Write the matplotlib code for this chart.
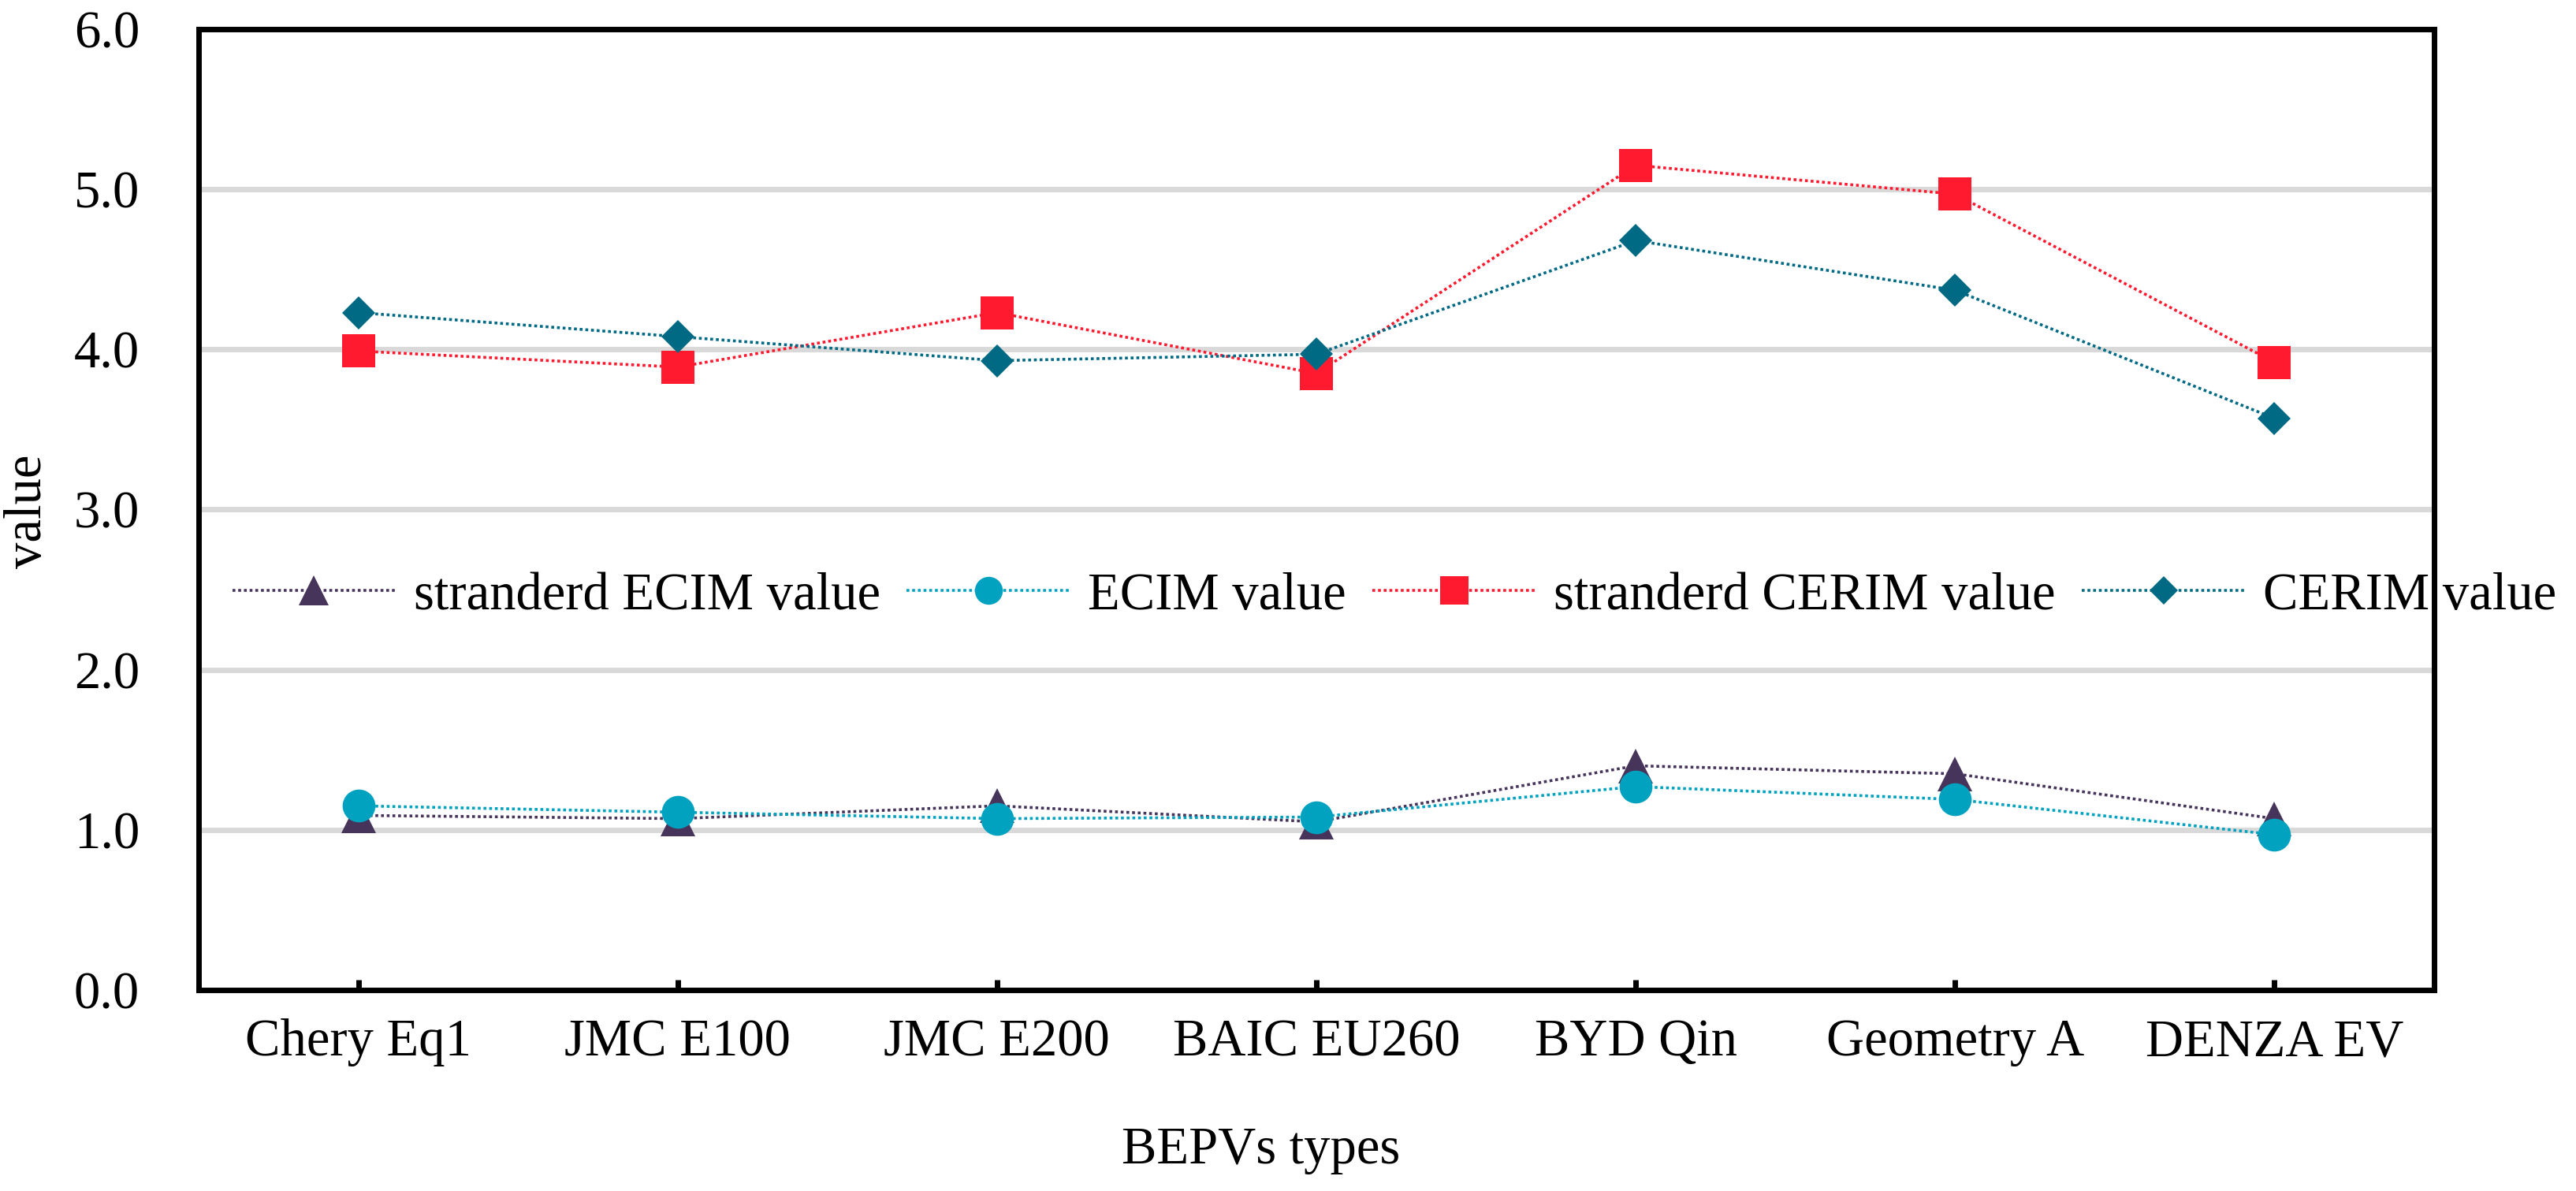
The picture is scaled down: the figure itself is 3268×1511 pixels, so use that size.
import matplotlib
matplotlib.use("Agg")
import matplotlib.pyplot as plt

plt.rcParams["font.family"] = ["Liberation Serif", "DejaVu Serif"]

types = ["Chery Eq1", "JMC E100", "JMC E200", "BAIC EU260", "BYD Qin", "Geometry A", "DENZA EV"]
std_ecim = [1.09, 1.07, 1.15, 1.05, 1.40, 1.35, 1.07]
ecim = [1.15, 1.11, 1.07, 1.08, 1.27, 1.19, 0.97]
std_cerim = [3.99, 3.89, 4.23, 3.85, 5.15, 4.97, 3.92]
cerim = [4.23, 4.08, 3.93, 3.97, 4.68, 4.37, 3.57]

series = [
    ("stranderd ECIM value", std_ecim, "#47345A", "^", 16.0),
    ("ECIM value", ecim, "#00A2C0", "o", 15.0),
    ("stranderd CERIM value", std_cerim, "#FF1A2F", "s", 15.0),
    ("CERIM value", cerim, "#006A85", "D", 10.7),
]

fig = plt.figure(figsize=(16.34, 7.555), dpi=200)
ax = fig.add_axes([0.0771, 0.1688, 0.9449 - 0.0771, 0.9755 - 0.1688])

x = list(range(len(types)))
for label, vals, color, marker, ms in series:
    ax.plot(x, vals, color=color, lw=1.3, ls=(0, (1, 1)), marker=marker,
            markersize=ms, markeredgewidth=0, label=label)

ax.set_xlim(-0.5, len(types) - 0.5)
ax.set_ylim(0, 6)
ax.set_yticks([0, 1, 2, 3, 4, 5, 6])
ax.set_yticklabels([f"{v:.1f}" for v in range(7)])
ax.set_xticks(x)
ax.set_xticklabels(types)
for y in [1, 2, 3, 4, 5]:
    ax.axhline(y, color="#D9D9D9", lw=2.5, zorder=0)

for s in ax.spines.values():
    s.set_linewidth(2.5)
    s.set_color("black")
ax.tick_params(axis="x", direction="in", length=4.7, width=2.5, pad=13, labelsize=24)
ax.tick_params(axis="y", length=0, pad=27, labelsize=24)

fig.text(0.4896, 1 - 1459 / 1511, "BEPVs types", ha="center", va="center", fontsize=24)
fig.text(0.011, 1 - 649 / 1511, "value", ha="center", va="center", rotation=90, fontsize=24)

ax.legend(loc="center", bbox_to_anchor=(0.535, 0.41), ncol=4, frameon=False,
          fontsize=24, handlelength=3.1, handletextpad=0.35, columnspacing=0.5,
          numpoints=1, markerscale=0.85)

fig.savefig("out.png", dpi=200)
